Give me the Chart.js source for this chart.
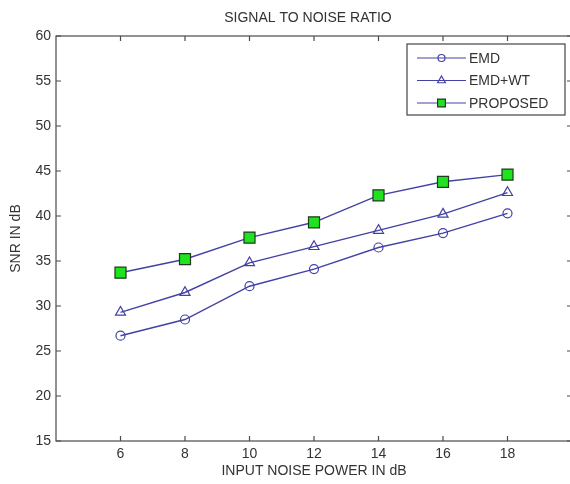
<!DOCTYPE html>
<html>
<head>
<meta charset="utf-8">
<script src="https://cdn.jsdelivr.net/npm/chart.js@4.4.1/dist/chart.umd.min.js"></script>
<style>
html, body { margin: 0; padding: 0; background: #fff; overflow: hidden; }
#chart_box { width: 581px; height: 484px; }
#snr_chart { display: block; }
</style>
</head>
<body>
<div id="chart_box">
<canvas id="snr_chart"></canvas>
</div>
<script>
// values
const noise_power = [6, 8, 10, 12, 14, 16, 18];
const snr_emd = [26.7, 28.5, 32.2, 34.1, 36.5, 38.1, 40.3];
const snr_emd_wt = [29.3, 31.5, 34.8, 36.6, 38.4, 40.2, 42.6];
const snr_proposed = [33.7, 35.2, 37.6, 39.3, 42.3, 43.8, 44.6];

const x_ticks = [6, 8, 10, 12, 14, 16, 18];
const y_ticks = [15, 20, 25, 30, 35, 40, 45, 50, 55, 60];
const series_labels = ['EMD', 'EMD+WT', 'PROPOSED'];

const chart_title = 'SIGNAL TO NOISE RATIO';
const x_title = 'INPUT NOISE POWER IN dB';
const y_title = 'SNR IN dB';

const font_family = '"Liberation Sans", Arial, Helvetica, sans-serif';
const text_color = '#333';
const axis_color = '#4a4a4a';
const line_color = '#4242a4';

const snr_canvas = document.getElementById('snr_chart');

function to_points(values) {
    return noise_power.map((x, i) => ({ x: x, y: values[i] }));
}

/**
 * MATLAB style box: frame, inward ticks on all sides, title and inset legend
 */
const matlab_frame = {
    id: 'matlab_frame',
    afterDraw(chart) {
        const ctx = chart.ctx;
        const area = chart.chartArea;
        const xs = chart.scales.x;
        const ys = chart.scales.y;
        const tick_len = 5;

        ctx.save();
        ctx.strokeStyle = axis_color;
        ctx.lineWidth = 1.2;
        ctx.strokeRect(area.left, area.top, area.right - area.left, area.bottom - area.top);

        ctx.beginPath();
        x_ticks.forEach(v => {
            const px = xs.getPixelForValue(v);
            ctx.moveTo(px, area.bottom);
            ctx.lineTo(px, area.bottom - tick_len);
            ctx.moveTo(px, area.top);
            ctx.lineTo(px, area.top + tick_len);
        });
        y_ticks.forEach(v => {
            const py = ys.getPixelForValue(v);
            ctx.moveTo(area.left, py);
            ctx.lineTo(area.left + tick_len, py);
            ctx.moveTo(area.right, py);
            ctx.lineTo(area.right - tick_len, py);
        });
        ctx.stroke();

        // title over the axes
        ctx.fillStyle = text_color;
        ctx.font = `14px ${font_family}`;
        ctx.textAlign = 'center';
        ctx.textBaseline = 'middle';
        ctx.fillText(chart_title, (area.left + area.right) / 2 - 6, 18);

        // legend box in the upper right corner
        const box_w = 158;
        const box_h = 71;
        const box_x = area.right - 7 - box_w;
        const box_y = area.top + 8;
        ctx.fillStyle = '#fff';
        ctx.fillRect(box_x, box_y, box_w, box_h);
        ctx.strokeStyle = '#444';
        ctx.lineWidth = 1.2;
        ctx.strokeRect(box_x, box_y, box_w, box_h);

        const legend_radius = [3.5, 4.5, 5.5];
        chart.data.datasets.forEach((ds, i) => {
            const row_y = box_y + 14 + i * 22.5;
            const line_x0 = box_x + 10;
            const line_x1 = box_x + 59;
            ctx.strokeStyle = ds.borderColor;
            ctx.lineWidth = 1.2;
            ctx.beginPath();
            ctx.moveTo(line_x0, row_y);
            ctx.lineTo(line_x1, row_y);
            ctx.stroke();

            ctx.fillStyle = ds.pointBackgroundColor;
            ctx.strokeStyle = ds.pointBorderColor;
            ctx.lineWidth = ds.pointBorderWidth;
            Chart.helpers.drawPoint(ctx, {
                pointStyle: ds.pointStyle,
                radius: legend_radius[i],
                rotation: 0,
                borderWidth: ds.pointBorderWidth
            }, (line_x0 + line_x1) / 2, row_y);

            ctx.fillStyle = text_color;
            ctx.font = `14px ${font_family}`;
            ctx.textAlign = 'left';
            ctx.textBaseline = 'middle';
            ctx.fillText(ds.label, line_x1 + 3, row_y + 1);
        });
        ctx.restore();
    }
};

const snr_chart = new Chart(snr_canvas, {
    type: 'line',
    data: {
        datasets: [{
            label: series_labels[0],
            data: to_points(snr_emd),
            borderColor: line_color,
            borderWidth: 1.4,
            pointStyle: 'circle',
            pointRadius: 4.5,
            pointBackgroundColor: 'rgba(0,0,0,0)',
            pointBorderColor: line_color,
            pointBorderWidth: 1.2,
            fill: false,
            tension: 0
        }, {
            label: series_labels[1],
            data: to_points(snr_emd_wt),
            borderColor: line_color,
            borderWidth: 1.4,
            pointStyle: 'triangle',
            pointRadius: 5.8,
            pointBackgroundColor: 'rgba(0,0,0,0)',
            pointBorderColor: line_color,
            pointBorderWidth: 1.2,
            fill: false,
            tension: 0
        }, {
            label: series_labels[2],
            data: to_points(snr_proposed),
            borderColor: line_color,
            borderWidth: 1.4,
            pointStyle: 'rect',
            pointRadius: 7.8,
            pointBackgroundColor: '#1ee31e',
            pointBorderColor: '#1f3a1f',
            pointBorderWidth: 1.2,
            fill: false,
            tension: 0
        }]
    },
    options: {
        responsive: true,
        maintainAspectRatio: false,
        animation: false,
        devicePixelRatio: 1,
        layout: {
            padding: { top: 36, right: 2, bottom: 0, left: 0 }
        },
        scales: {
            x: {
                type: 'linear',
                min: 4,
                max: 20,
                afterBuildTicks: (scale) => {
                    scale.ticks = x_ticks.map(v => ({ value: v }));
                },
                afterFit: (scale) => {
                    scale.height = 43;
                    scale.paddingLeft = 0;
                    scale.paddingRight = 0;
                },
                grid: { display: false, drawTicks: false },
                border: { display: false },
                ticks: {
                    color: text_color,
                    padding: 5,
                    maxRotation: 0,
                    font: { family: font_family, size: 14 }
                },
                title: {
                    display: true,
                    text: x_title,
                    color: text_color,
                    padding: { top: 0, bottom: 4 },
                    font: { family: font_family, size: 14 }
                }
            },
            y: {
                min: 15,
                max: 60,
                afterBuildTicks: (scale) => {
                    scale.ticks = y_ticks.map(v => ({ value: v }));
                },
                afterFit: (scale) => {
                    scale.width = 56;
                    scale.paddingTop = 0;
                    scale.paddingBottom = 0;
                },
                grid: { display: false, drawTicks: false },
                border: { display: false },
                ticks: {
                    color: text_color,
                    padding: 5,
                    font: { family: font_family, size: 14 }
                },
                title: {
                    display: true,
                    text: y_title,
                    color: text_color,
                    padding: { top: 8, bottom: 0 },
                    font: { family: font_family, size: 14 }
                }
            }
        },
        plugins: {
            legend: { display: false },
            title: { display: false },
            tooltip: { enabled: false }
        }
    },
    plugins: [matlab_frame]
});
</script>
</body>
</html>
